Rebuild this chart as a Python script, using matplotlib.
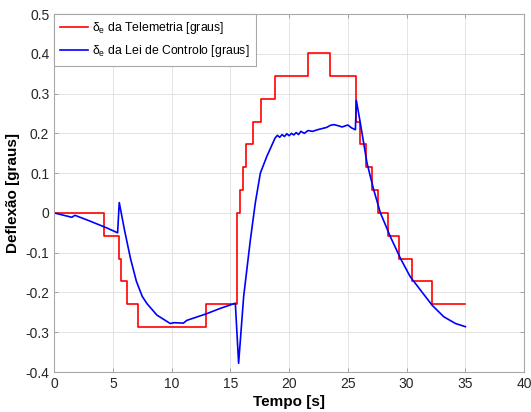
import numpy as np
import matplotlib.pyplot as plt

plt.rcParams['font.family'] = ['Liberation Sans', 'DejaVu Sans']
plt.rcParams['mathtext.fontset'] = 'custom'
plt.rcParams['mathtext.rm'] = 'Liberation Sans'
plt.rcParams['mathtext.sf'] = 'Liberation Sans'

# telemetria (degraus)
tel_t = [0, 4.2, 5.48, 5.68, 6.19, 7.13, 12.9, 15.55, 15.85, 16.05, 16.35,
         16.92, 17.6, 18.8, 21.6, 23.5, 25.7, 26.06, 26.55, 27.06, 27.54, 28.42,
         29.39, 30.47, 32.17, 35.0]
tel_y = [0, -0.057, -0.115, -0.172, -0.229, -0.286, -0.229, 0.0, 0.057,
         0.115, 0.172, 0.229, 0.286, 0.344, 0.401, 0.344, 0.229, 0.172, 0.115,
         0.057, 0.0, -0.057, -0.115, -0.172, -0.229, -0.229]

# lei de controlo
lc_t = [0, 1.5, 1.77, 3.0, 4.5, 5.4, 5.54, 6.0, 6.5, 7.0, 7.5, 7.9, 8.75, 9.88,
        10.2, 11.0, 11.3, 12.92, 14.14, 15.42, 15.7, 16.13, 16.7, 17.12, 17.55,
        18.1, 18.8, 19.0, 19.2, 19.4, 19.6, 19.8, 20.0, 20.2, 20.4, 20.6, 20.8,
        21.0, 21.3, 21.6, 22.0, 22.4, 22.8, 23.2, 23.5, 23.8, 24.2, 24.5, 24.8,
        25.0, 25.3, 25.64, 25.72, 26.06, 26.63, 27.2, 27.77, 28.62, 29.47, 30.3,
        31.18, 32.17, 33.16, 34.16, 35.0]
lc_y = [0, -0.011, -0.006, -0.02, -0.038, -0.05, 0.026, -0.045, -0.115, -0.172,
        -0.21, -0.228, -0.257, -0.278, -0.276, -0.277, -0.27, -0.254, -0.24, -0.227,
        -0.378, -0.21, -0.068, 0.025, 0.1, 0.142, 0.188, 0.195, 0.19, 0.197,
        0.192, 0.199, 0.194, 0.2, 0.196, 0.202, 0.197, 0.205, 0.2, 0.207, 0.205,
        0.209, 0.212, 0.215, 0.22, 0.222, 0.219, 0.216, 0.219, 0.221, 0.214,
        0.209, 0.283, 0.226, 0.125, 0.058, 0.0, -0.06, -0.114, -0.16, -0.194,
        -0.232, -0.261, -0.278, -0.286]

fig = plt.figure(figsize=(5.31, 4.12), dpi=100)
ax = fig.add_axes([0.102, 0.097, 0.885, 0.869])

ax.plot(tel_t, tel_y, color='#ff0000', lw=1.2, drawstyle='steps-post',
        label=r'δ$_{\mathsf{e}}$ da Telemetria [graus]')
ax.plot(lc_t, lc_y, color='#0000ff', lw=1.2,
        label=r'δ$_{\mathsf{e}}$ da Lei de Controlo [graus]')

ax.set_xlim(0, 40)
ax.set_ylim(-0.4, 0.5)
ax.set_xticks(np.arange(0, 41, 5))
ax.set_yticks(np.arange(-0.4, 0.51, 0.1))
ax.set_yticklabels(['-0.4', '-0.3', '-0.2', '-0.1', '0', '0.1', '0.2', '0.3', '0.4', '0.5'])
ax.grid(True, color='#e3e3e3', lw=0.7)
ax.set_axisbelow(True)
ax.tick_params(direction='in', length=3, width=0.7, color='#a0a0a0',
               labelsize=10, labelcolor='#262626', top=True, right=True)
for s in ax.spines.values():
    s.set_color('#a8a8a8')
    s.set_linewidth(0.8)

ax.set_xlabel('Tempo [s]', fontsize=11, fontweight='bold', labelpad=3)
ax.set_ylabel('Deflexão [graus]', fontsize=11, fontweight='bold', labelpad=4)

leg = ax.legend(loc='upper left', fontsize=8.8, fancybox=False, framealpha=1,
                edgecolor='#a8a8a8', borderaxespad=0, handlelength=2.3,
                handletextpad=0.3, labelspacing=0.6, borderpad=0.5)
leg.get_frame().set_linewidth(0.8)

fig.savefig('out.png', dpi=100)
